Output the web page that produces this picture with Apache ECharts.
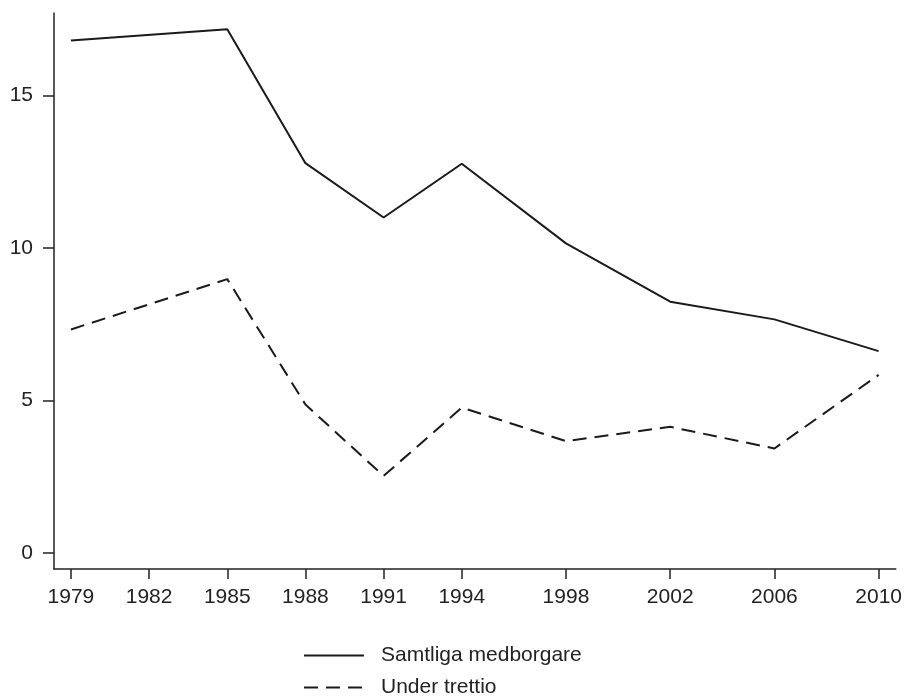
<!DOCTYPE html>
<html>
<head>
<meta charset="utf-8">
<script src="https://cdn.jsdelivr.net/npm/echarts@6/dist/echarts.min.js"></script>
<style>
  html, body { margin: 0; padding: 0; background: #fff; }
  #chart { width: 905px; height: 698px; }
</style>
</head>
<body>
<div id="chart"></div>
<script>
// år och värden
const years = [1979, 1985, 1988, 1991, 1994, 1998, 2002, 2006, 2010];
const samtliga = [16.8, 17.17, 12.78, 11.0, 12.76, 10.15, 8.24, 7.66, 6.62];
const underTrettio = [7.33, 8.98, 4.87, 2.53, 4.77, 3.67, 4.14, 3.43, 5.84];
const xTicks = [1979, 1982, 1985, 1988, 1991, 1994, 1998, 2002, 2006, 2010];
const yTicks = [0, 5, 10, 15];

const font = "Liberation Sans";
const ink = "#222";

let mychart = echarts.init(document.getElementById("chart"));
mychart.setOption({
  animation: false,
  textStyle: { fontFamily: font },
  grid: { left: 54, right: 9, top: 13, bottom: 129 },
  xAxis: {
    type: "value",
    min: 1978.35,
    max: 2010.66,
    splitLine: { show: false },
    axisLine: { onZero: false, lineStyle: { color: ink, width: 1.5 } },
    axisTick: {
      show: true,
      length: 10,
      customValues: xTicks,
      lineStyle: { color: ink, width: 1.5 }
    },
    axisLabel: {
      customValues: xTicks,
      formatter: v => String(v),
      margin: 18,
      fontSize: 21,
      color: ink,
      fontFamily: font
    }
  },
  yAxis: {
    type: "value",
    min: -0.52,
    max: 17.7,
    splitLine: { show: false },
    axisLine: { show: true, onZero: false, lineStyle: { color: ink, width: 1.5 } },
    axisTick: {
      show: true,
      length: 11,
      customValues: yTicks,
      lineStyle: { color: ink, width: 1.5 }
    },
    axisLabel: {
      customValues: yTicks,
      formatter: v => String(v),
      margin: 21,
      fontSize: 21,
      color: ink,
      fontFamily: font
    }
  },
  legend: {
    orient: "vertical",
    left: 303,
    top: 645,
    height: 80,
    padding: 0,
    itemWidth: 60,
    itemHeight: 14,
    itemGap: 11,
    itemStyle: { opacity: 0 },
    textStyle: { fontSize: 21, color: ink, fontFamily: font, padding: [0, 0, 0, 12] },
    data: ["Samtliga medborgare", "Under trettio"]
  },
  series: [
    {
      name: "Samtliga medborgare",
      type: "line",
      symbol: "none",
      data: years.map((y, i) => [y, samtliga[i]]),
      lineStyle: { color: "#1a1a1a", width: 2 },
      itemStyle: { color: "#1a1a1a" }
    },
    {
      name: "Under trettio",
      type: "line",
      symbol: "none",
      data: years.map((y, i) => [y, underTrettio[i]]),
      lineStyle: { color: "#1a1a1a", width: 2, type: [14, 8] },
      itemStyle: { color: "#1a1a1a" }
    }
  ]
});
</script>
</body>
</html>
